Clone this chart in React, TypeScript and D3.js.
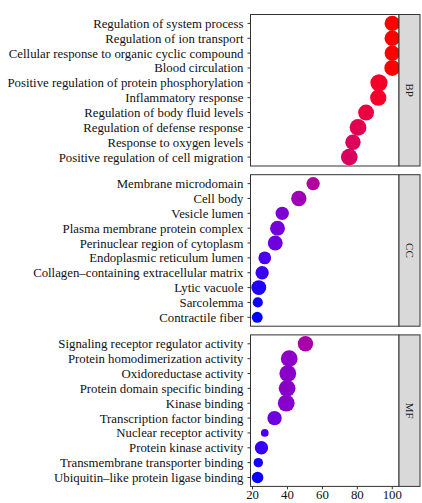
import React from "react";
import * as d3 from "d3";

const bpTerms = [
  "Regulation of system process",
  "Regulation of ion transport",
  "Cellular response to organic cyclic compound",
  "Blood circulation",
  "Positive regulation of protein phosphorylation",
  "Inflammatory response",
  "Regulation of body fluid levels",
  "Regulation of defense response",
  "Response to oxygen levels",
  "Positive regulation of cell migration",
];
const bpValue = [100, 100, 100, 100, 92.4, 92.0, 85.0, 80.4, 77.5, 75.4];
const bpCount = [16, 16, 16, 17, 20, 18, 17, 19, 16, 19];

const ccTerms = [
  "Membrane microdomain",
  "Cell body",
  "Vesicle lumen",
  "Plasma membrane protein complex",
  "Perinuclear region of cytoplasm",
  "Endoplasmic reticulum lumen",
  "Collagen\u2013containing extracellular matrix",
  "Lytic vacuole",
  "Sarcolemma",
  "Contractile fiber",
];
const ccValue = [54.7, 46.5, 37.0, 34.3, 33.0, 27.0, 25.5, 23.6, 23.0, 22.7];
const ccCount = [12, 16, 12, 15, 15, 11, 12, 15, 7, 8];

const mfTerms = [
  "Signaling receptor regulator activity",
  "Protein homodimerization activity",
  "Oxidoreductase activity",
  "Protein domain specific binding",
  "Kinase binding",
  "Transcription factor binding",
  "Nuclear receptor activity",
  "Protein kinase activity",
  "Transmembrane transporter binding",
  "Ubiquitin\u2013like protein ligase binding",
];
const mfValue = [50.3, 41.0, 40.2, 39.8, 39.3, 32.6, 27.0, 25.1, 23.3, 22.9];
const mfCount = [16, 19, 19, 19, 19, 14, 4, 12, 6, 9];

const facetLabels = ["BP", "CC", "MF"];
const xTicks = [20, 40, 60, 80, 100];

const W = 422;
const H = 503;
const panelLeft = 250.5;
const panelRight = 399;
const stripRight = 420;
const panelTop = 14.5;
const panelH = 151.5;
const panelGap = 8.7;
const font = "'Liberation Serif', 'Times New Roman', serif";
const labelSize = 12.8;

export default function App() {
  const facets = [
    { terms: bpTerms, values: bpValue, counts: bpCount },
    { terms: ccTerms, values: ccValue, counts: ccCount },
    { terms: mfTerms, values: mfValue, counts: mfCount },
  ];
  const allX = [...bpValue, ...ccValue, ...mfValue];
  const xmin = d3.min(allX) as number;
  const xmax = d3.max(allX) as number;
  const pad = (xmax - xmin) * 0.05;
  const x = d3.scaleLinear().domain([xmin - pad, xmax + pad]).range([panelLeft, panelRight]);
  const color = d3
    .scaleLinear<string>()
    .domain([xmin, xmax])
    .range(["blue", "red"])
    .interpolate(d3.interpolateLab);
  const size = d3.scaleSqrt().domain([0, 20]).range([0, 8.6]);

  return (
    <svg
      width={W}
      height={H}
      style={{ position: "absolute", left: 0, top: 0, background: "#fff" }}
      fontFamily={font}
    >
      <rect x={0} y={0} width={W} height={H} fill="#fff" />
      {facets.map((f, i) => {
        const top = panelTop + i * (panelH + panelGap);
        const y = d3
          .scalePoint<string>()
          .domain(f.terms)
          .range([top, top + panelH])
          .padding(0.6);
        const clipId = `clip${i}`;
        return (
          <g key={i}>
            <defs>
              <clipPath id={clipId}>
                <rect x={panelLeft} y={top} width={panelRight - panelLeft} height={panelH} />
              </clipPath>
            </defs>
            <rect x={panelLeft} y={top} width={panelRight - panelLeft} height={panelH} fill="#fff" />
            <g clipPath={`url(#${clipId})`}>
              {f.terms.map((t, j) => (
                <circle
                  key={t}
                  cx={x(f.values[j])}
                  cy={y(t) as number}
                  r={size(f.counts[j])}
                  fill={color(f.values[j])}
                />
              ))}
            </g>
            <rect
              x={panelLeft}
              y={top}
              width={panelRight - panelLeft}
              height={panelH}
              fill="none"
              stroke="#333"
              strokeWidth={1}
            />
            {f.terms.map((t) => (
              <g key={t}>
                <line
                  x1={panelLeft - 3}
                  x2={panelLeft}
                  y1={y(t) as number}
                  y2={y(t) as number}
                  stroke="#333"
                  strokeWidth={1}
                />
                <text
                  x={panelLeft - 7}
                  y={y(t) as number}
                  dy="0.35em"
                  textAnchor="end"
                  fontSize={labelSize}
                  fill="#111"
                >
                  {t}
                </text>
              </g>
            ))}
            <rect
              x={panelRight}
              y={top}
              width={stripRight - panelRight}
              height={panelH}
              fill="#d9d9d9"
              stroke="#333"
              strokeWidth={1}
            />
            <text
              transform={`translate(${(panelRight + stripRight) / 2},${top + panelH / 2}) rotate(90)`}
              textAnchor="middle"
              dy="0.35em"
              fontSize={11}
              fill="#1a1a1a"
            >
              {facetLabels[i]}
            </text>
          </g>
        );
      })}
      {xTicks.map((t) => {
        const bottom = panelTop + 3 * panelH + 2 * panelGap;
        return (
          <g key={t}>
            <line x1={x(t)} x2={x(t)} y1={bottom} y2={bottom + 3} stroke="#333" strokeWidth={1} />
            <text x={x(t)} y={bottom + 13} textAnchor="middle" fontSize={labelSize} fill="#111">
              {t}
            </text>
          </g>
        );
      })}
    </svg>
  );
}
